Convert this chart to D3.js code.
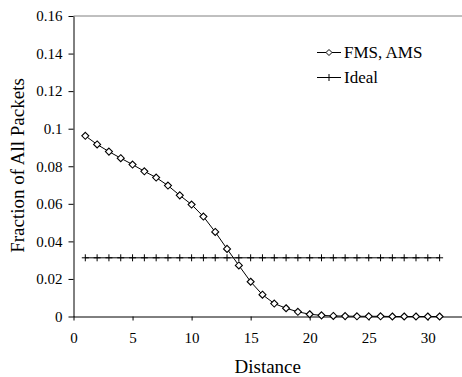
<!DOCTYPE html>
<html><head><meta charset="utf-8">
<script src="https://cdn.jsdelivr.net/npm/d3@7"></script>
<style>
html,body{margin:0;padding:0;background:#fff;}
svg{display:block;}
</style></head>
<body>
<svg id="chart" width="462" height="377"></svg>
<script>
const distances = d3.range(1, 32);
const fmsValues = [0.0962,0.0916,0.0878,0.0843,0.0809,0.0773,0.0740,0.0697,0.0645,0.0596,
  0.0532,0.0450,0.0360,0.0272,0.0185,0.0116,0.0069,0.0044,0.0025,0.0012,
  0.0006,0.0003,0.0002,0.0001,0.0001,0.0001,0.0000,0.0000,0.0000,0.0000,0.0000];
const idealValues = distances.map(() => 0.03125);
const xTicks = [0,5,10,15,20,25,30];
const yTicks = [0,0.02,0.04,0.06,0.08,0.1,0.12,0.14,0.16];
const seriesNames = ["FMS, AMS","Ideal"];
const xTitle = "Distance";
const yTitle = "Fraction of All Packets";

const FONT = "serif";
const svg = d3.select("#chart");
const x = d3.scaleLinear().domain([0,33]).range([73.5, 73.5 + 33*11.81]);
const y = d3.scaleLinear().domain([0,0.16]).range([316.5, 16]);

// top border
svg.append("line").attr("x1",73.5).attr("x2",462).attr("y1",16).attr("y2",16)
  .attr("stroke","#808080").attr("stroke-width",1);

// axes
const xAxis = svg.append("g").attr("transform",`translate(0,${y(0)})`)
  .call(d3.axisBottom(x).tickValues(xTicks).tickSize(4).tickSizeOuter(0).tickPadding(12).tickFormat(d3.format("d")));
xAxis.select(".domain").attr("d", `M${x(0)},0.5H462`).attr("stroke","#000");
const yAxis = svg.append("g").attr("transform",`translate(${x(0)},0)`)
  .call(d3.axisLeft(y).tickValues(yTicks).tickSize(5).tickSizeOuter(0).tickPadding(6).tickFormat(d => d===0?"0":String(+d.toFixed(2))));
[xAxis,yAxis].forEach(g=>{
  g.attr("font-family",FONT).attr("font-size",15);
  g.selectAll("text").style("font-size","15px").style("font-family",FONT).attr("fill","#000");
  g.selectAll("line").attr("stroke","#000");
});

// ideal series
const line = d3.line().x((d,i)=>x(distances[i])).y(d=>y(d));
svg.append("path").attr("d", line(idealValues)).attr("fill","none").attr("stroke","#000").attr("stroke-width",1);
svg.append("g").selectAll("path").data(idealValues).join("path")
  .attr("d",(d,i)=>{const cx=x(distances[i]), cy=y(d); return `M${cx-3.5},${cy}H${cx+3.5}M${cx},${cy-3.5}V${cy+3.5}`;})
  .attr("stroke","#000").attr("stroke-width",1);

// FMS series
svg.append("path").attr("d", line(fmsValues)).attr("fill","none").attr("stroke","#000").attr("stroke-width",1);
svg.append("g").selectAll("path").data(fmsValues).join("path")
  .attr("d",(d,i)=>{const cx=x(distances[i]), cy=y(d), r=3.5; return `M${cx},${cy-r}L${cx+r},${cy}L${cx},${cy+r}L${cx-r},${cy}Z`;})
  .attr("fill","#fff").attr("stroke","#000").attr("stroke-width",1.1);

// legend
const leg = svg.append("g");
const ly = [52.5, 77.5];
seriesNames.forEach((name,k)=>{
  leg.append("line").attr("x1",317).attr("x2",341).attr("y1",ly[k]).attr("y2",ly[k]).attr("stroke","#000");
  if(k===0){
    const cx=329, cy=ly[k], r=3;
    leg.append("path").attr("d",`M${cx},${cy-r}L${cx+r},${cy}L${cx},${cy+r}L${cx-r},${cy}Z`).attr("fill","#fff").attr("stroke","#000");
  } else {
    leg.append("path").attr("d",`M${329-3.5},${ly[k]}H${329+3.5}M329,${ly[k]-3.5}V${ly[k]+3.5}`).attr("stroke","#000");
  }
  leg.append("text").attr("x",344).attr("y",ly[k]).attr("dy","0.35em")
    .style("font-family",FONT).style("font-size","17px").text(name);
});

// titles
svg.append("text").attr("x",(x(0)+462)/2).attr("y",373).attr("text-anchor","middle")
  .style("font-family",FONT).style("font-size","19px").text(xTitle);
svg.append("text").attr("transform","translate(24,165.5) rotate(-90)").attr("text-anchor","middle")
  .style("font-family",FONT).style("font-size","19px").text(yTitle);
</script>
</body></html>
